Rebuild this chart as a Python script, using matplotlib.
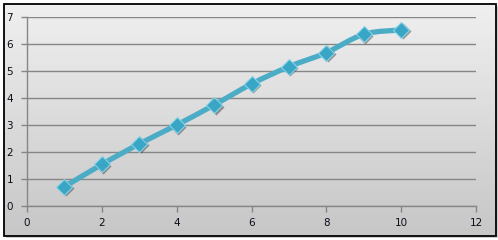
import numpy as np
import matplotlib
matplotlib.use("Agg")
import matplotlib.pyplot as plt
from matplotlib.path import Path
from matplotlib.patches import PathPatch, Rectangle
import matplotlib.transforms as mtransforms

x_vals = [1, 2, 3, 4, 5, 6, 7, 8, 9, 10]
y_vals = [0.71, 1.54, 2.30, 3.00, 3.74, 4.52, 5.16, 5.68, 6.36, 6.52]
x_ticks = [0, 2, 4, 6, 8, 10, 12]
y_ticks = [0, 1, 2, 3, 4, 5, 6, 7]

W, H = 498, 240
fig = plt.figure(figsize=(W / 100, H / 100), dpi=100)
fig.patch.set_facecolor("white")

# background gradient panel with border
bg = fig.add_axes([0, 0, 1, 1])
bg.set_xlim(0, W)
bg.set_ylim(H, 0)
bg.axis("off")
grad = np.linspace(0, 1, 256).reshape(-1, 1)
top = np.array([0.94, 0.94, 0.94])
bot = np.array([0.78, 0.78, 0.78])
img = top[None, None, :] * (1 - grad[:, :, None]) + bot[None, None, :] * grad[:, :, None]
bg.add_patch(Rectangle((6, 6), 492, 232, facecolor="#b0b0b0", edgecolor="none", alpha=0.6, zorder=0))
bg.imshow(img, extent=(3.5, 495.5, 235.5, 3.5), aspect="auto", zorder=1)
bg.add_patch(Rectangle((3.5, 3.5), 492, 232, facecolor="none", edgecolor="black", linewidth=1.3, zorder=2))

ax = fig.add_axes([27 / W, 34 / H, (476 - 27) / W, (206 - 17) / H])
ax.patch.set_alpha(0)
ax.set_xlim(0, 12)
ax.set_ylim(0, 7)
ax.set_xticks(x_ticks)
ax.set_yticks(y_ticks)
ax.set_xticklabels([str(v) for v in x_ticks])
ax.set_yticklabels([str(v) for v in y_ticks])
for s in ["top", "right"]:
    ax.spines[s].set_visible(False)
for s in ["left", "bottom"]:
    ax.spines[s].set_color("#868686")
    ax.spines[s].set_linewidth(1.0)
ax.grid(axis="y", color="#868686", linewidth=1.0)
ax.set_axisbelow(True)
ax.tick_params(axis="both", colors="#868686", length=4, width=1.0, labelcolor="#0d0d1a", labelsize=7.5)
ax.tick_params(axis="y", pad=6)
ax.tick_params(axis="x", pad=5)

# smoothed line (Catmull-Rom style bezier, like Excel smoothing)
xs = np.array(x_vals, float)
ys = np.array(y_vals, float)
pts = np.column_stack([xs, ys])
n = len(pts)
verts = [tuple(pts[0])]
codes = [Path.MOVETO]
for i in range(n - 1):
    p0 = pts[i - 1] if i > 0 else pts[i]
    p1 = pts[i]
    p2 = pts[i + 1]
    p3 = pts[i + 2] if i + 2 < n else pts[i + 1]
    c1 = p1 + (p2 - p0) / 6.0
    c2 = p2 - (p3 - p1) / 6.0
    verts += [tuple(c1), tuple(c2), tuple(p2)]
    codes += [Path.CURVE4, Path.CURVE4, Path.CURVE4]
path = Path(verts, codes)
patch = PathPatch(path, facecolor="none", edgecolor="#4bacc6", linewidth=3.8,
                  capstyle="round", joinstyle="round", zorder=3)
ax.add_patch(patch)

# marker shadows
shadow_tr = ax.transData + mtransforms.ScaledTranslation(1.5 / 100, -1.5 / 100, fig.dpi_scale_trans)
ax.plot(xs, ys, linestyle="none", marker="D", markersize=8.2,
        markerfacecolor="#303030", markeredgecolor="none", alpha=0.45,
        transform=shadow_tr, zorder=3.5)
ax.plot(xs, ys, linestyle="none", marker="D", markersize=8.2,
        markerfacecolor="#3aa6c6", markeredgecolor="#86d3e8", markeredgewidth=0.8,
        zorder=4)

fig.savefig("out.png", dpi=100)
